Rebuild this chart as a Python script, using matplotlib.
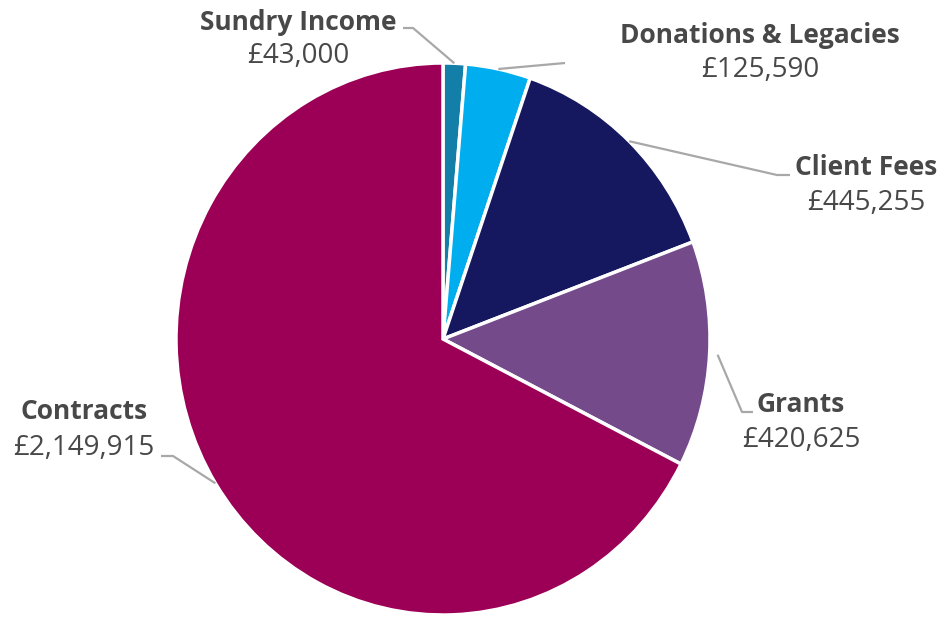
import numpy as np
import matplotlib
matplotlib.use("Agg")
import matplotlib.pyplot as plt

categories = ["Sundry Income", "Donations & Legacies", "Client Fees", "Grants", "Contracts"]
values = [43000, 125590, 445255, 420625, 2149915]
value_labels = ["£43,000", "£125,590", "£445,255", "£420,625", "£2,149,915"]
colors = ["#137FA8", "#00AEEF", "#15175F", "#744A8B", "#9B0056"]

W, H = 945, 622
fig = plt.figure(figsize=(W / 100, H / 100), dpi=100)

# pie box in pixels (slightly elliptical as in reference)
cx, cy = 443, 339
rx, ry = 267, 276
ax = fig.add_axes([(cx - rx) / W, 1 - (cy + ry) / H, 2 * rx / W, 2 * ry / H])

wedges, _ = ax.pie(values, colors=colors, startangle=90, counterclock=False,
                   wedgeprops=dict(edgecolor="white", linewidth=2.5), radius=1)
ax.set_xlim(-1, 1)
ax.set_ylim(-1, 1)
ax.set_aspect("auto")
ax.axis("off")


def p2d(px, py):
    return ((px - cx) / rx, (cy - py) / ry)


# label layout (pixel positions: centre x, name baseline, value baseline)
label_pos = [(298, 30, 63), (760, 43, 77), (866, 175, 210), (801, 412, 447), (84, 419, 455)]
# leader elbows (pixels)
elbows = [[(413, 28), (403, 28)],
          [(565, 63)],
          [(777, 175), (790, 175)],
          [(742, 412), (753, 412)],
          [(173, 456), (161, 456)]]
start_r = [1.0, 1.0, 1.0, 1.03, 1.0]

txt_color = "#484848"
font = "Open Sans"
for w, name, val, (lx, nb, vb), elb, r0 in zip(wedges, categories, value_labels, label_pos, elbows, start_r):
    ang = np.deg2rad((w.theta1 + w.theta2) / 2)
    pts = [(r0 * np.cos(ang), r0 * np.sin(ang))] + [p2d(*e) for e in elb]
    xs, ys = zip(*pts)
    ax.plot(xs, ys, color="#A8A8A8", lw=1.6, clip_on=False, solid_capstyle="butt")
    fig.text(lx / W, 1 - nb / H, name, ha="center", va="baseline", fontsize=19,
             fontweight="bold", color=txt_color, family=font)
    fig.text(lx / W, 1 - vb / H, val, ha="center", va="baseline", fontsize=20,
             color=txt_color, family=font)

fig.savefig("out.png", dpi=100, facecolor="white")
